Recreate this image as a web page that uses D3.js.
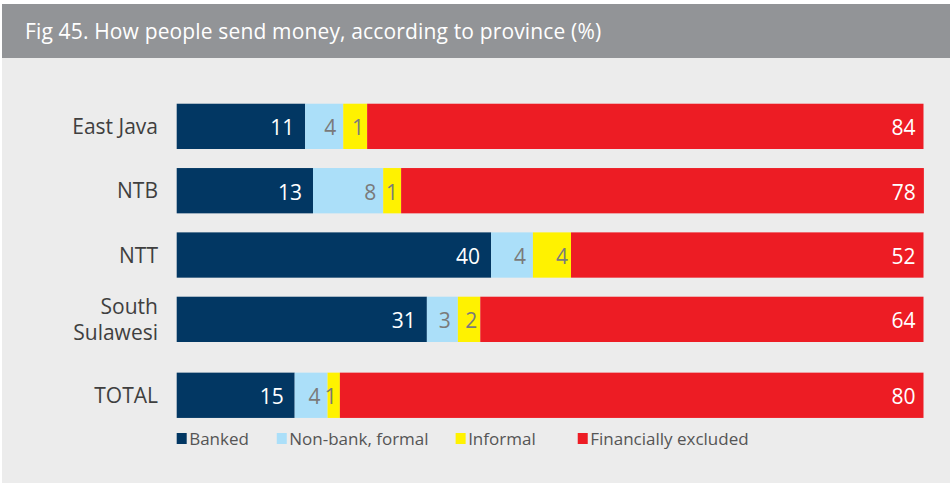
<!DOCTYPE html>
<html>
<head>
<meta charset="utf-8">
<script src="https://cdn.jsdelivr.net/npm/d3@7"></script>
<style>
  html, body { margin: 0; padding: 0; background: #ffffff; }
  svg { display: block; font-family: "Open Sans", "Noto Sans", sans-serif; }
</style>
</head>
<body>
<svg id="chart" width="950" height="485"></svg>
<script>
// ---- Data ----
const title = "Fig 45. How people send money, according to province (%)";
const categories = ["East Java", "NTB", "NTT", "South Sulawesi", "TOTAL"];
const seriesNames = ["Banked", "Non-bank, formal", "Informal", "Financially excluded"];
// Printed values (%)
const banked = [11, 13, 40, 31, 15];
const nonBankFormal = [4, 8, 4, 3, 4];
const informal = [1, 1, 4, 2, 1];
const financiallyExcluded = [84, 78, 52, 64, 80];
// Bar lengths as drawn in the reference (share of full bar, %)
const bankedShare = [17.2, 18.25, 42.1, 33.5, 15.8];
const nonBankShare = [5.1, 9.4, 5.6, 4.15, 4.4];
const informalShare = [3.2, 2.4, 5.1, 3.0, 1.65];
const excludedShare = [74.5, 70.0, 47.2, 59.35, 78.15];

const seriesLabels = [banked, nonBankFormal, informal, financiallyExcluded];
const seriesShares = [bankedShare, nonBankShare, informalShare, excludedShare];
const colors = ["#023763", "#abdff9", "#fff200", "#ed1c24"];
const labelColors = ["#ffffff", "#7a7a7a", "#7a7a7a", "#ffffff"];
const labelPad = [11, 7, 3, 8];

// ---- Layout ----
const W = 950, H = 485;
const svg = d3.select("#chart");

svg.append("rect").attr("x", 2).attr("y", 4).attr("width", W - 2).attr("height", 479).attr("fill", "#ececec");
svg.append("rect").attr("x", 2).attr("y", 4).attr("width", W - 2).attr("height", 54).attr("fill", "#929497");
svg.append("text").attr("x", 25).attr("y", 39).attr("fill", "#ffffff")
  .attr("font-size", 21).attr("letter-spacing", 0.15).text(title);

const x = d3.scaleLinear().domain([0, 100]).range([176.7, 923.5]);
const totalGap = 11.6;
const yBand = d3.scaleBand().domain(categories).range([94.2, 94.2 + 64.33 * 5]).paddingInner(0.296).paddingOuter(0.148);
const y = c => yBand(c) + (c === "TOTAL" ? totalGap : 0);
const bh = yBand.bandwidth();

// stack rows
const rows = categories.map((c, i) => {
  let acc = 0;
  return seriesNames.map((s, k) => {
    const v0 = acc; acc += seriesShares[k][i];
    return { cat: c, k, x0: v0, x1: acc, label: seriesLabels[k][i] };
  });
});

const g = svg.append("g");
rows.forEach(row => {
  const rg = g.append("g");
  rg.selectAll("rect").data(row).join("rect")
    .attr("x", d => x(d.x0))
    .attr("y", d => y(d.cat))
    .attr("width", d => x(d.x1) - x(d.x0))
    .attr("height", bh)
    .attr("fill", d => colors[d.k]);
  rg.selectAll("text").data(row).join("text")
    .attr("x", d => x(d.x1) - labelPad[d.k])
    .attr("y", d => y(d.cat) + bh / 2)
    .attr("dy", "0.43em")
    .attr("text-anchor", "end")
    .attr("font-size", 21)
    .attr("fill", d => labelColors[d.k])
    .text(d => d.label);
});

// category labels
categories.forEach(c => {
  const words = c === "South Sulawesi" ? ["South", "Sulawesi"] : [c];
  const t = svg.append("text")
    .attr("x", 158).attr("text-anchor", "end")
    .attr("font-size", 21).attr("fill", "#3f3f3f");
  const cy = y(c) + bh / 2;
  const lh = 26;
  words.forEach((w, i) => {
    t.append("tspan").attr("x", 158)
      .attr("y", cy + (i - (words.length - 1) / 2) * lh)
      .attr("dy", "0.36em").text(w);
  });
});

// legend
const legendPos = [0, 13.4, 37.35, 53.7];
const ly = 438.5;
seriesNames.forEach((s, k) => {
  const lx = x(legendPos[k]);
  svg.append("rect").attr("x", lx).attr("y", ly - 5.5).attr("width", 10).attr("height", 11).attr("fill", colors[k]);
  svg.append("text").attr("x", lx + 12.5).attr("y", ly).attr("dy", "0.36em")
    .attr("font-size", 17).attr("fill", "#555555").text(s);
});
</script>
</body>
</html>
